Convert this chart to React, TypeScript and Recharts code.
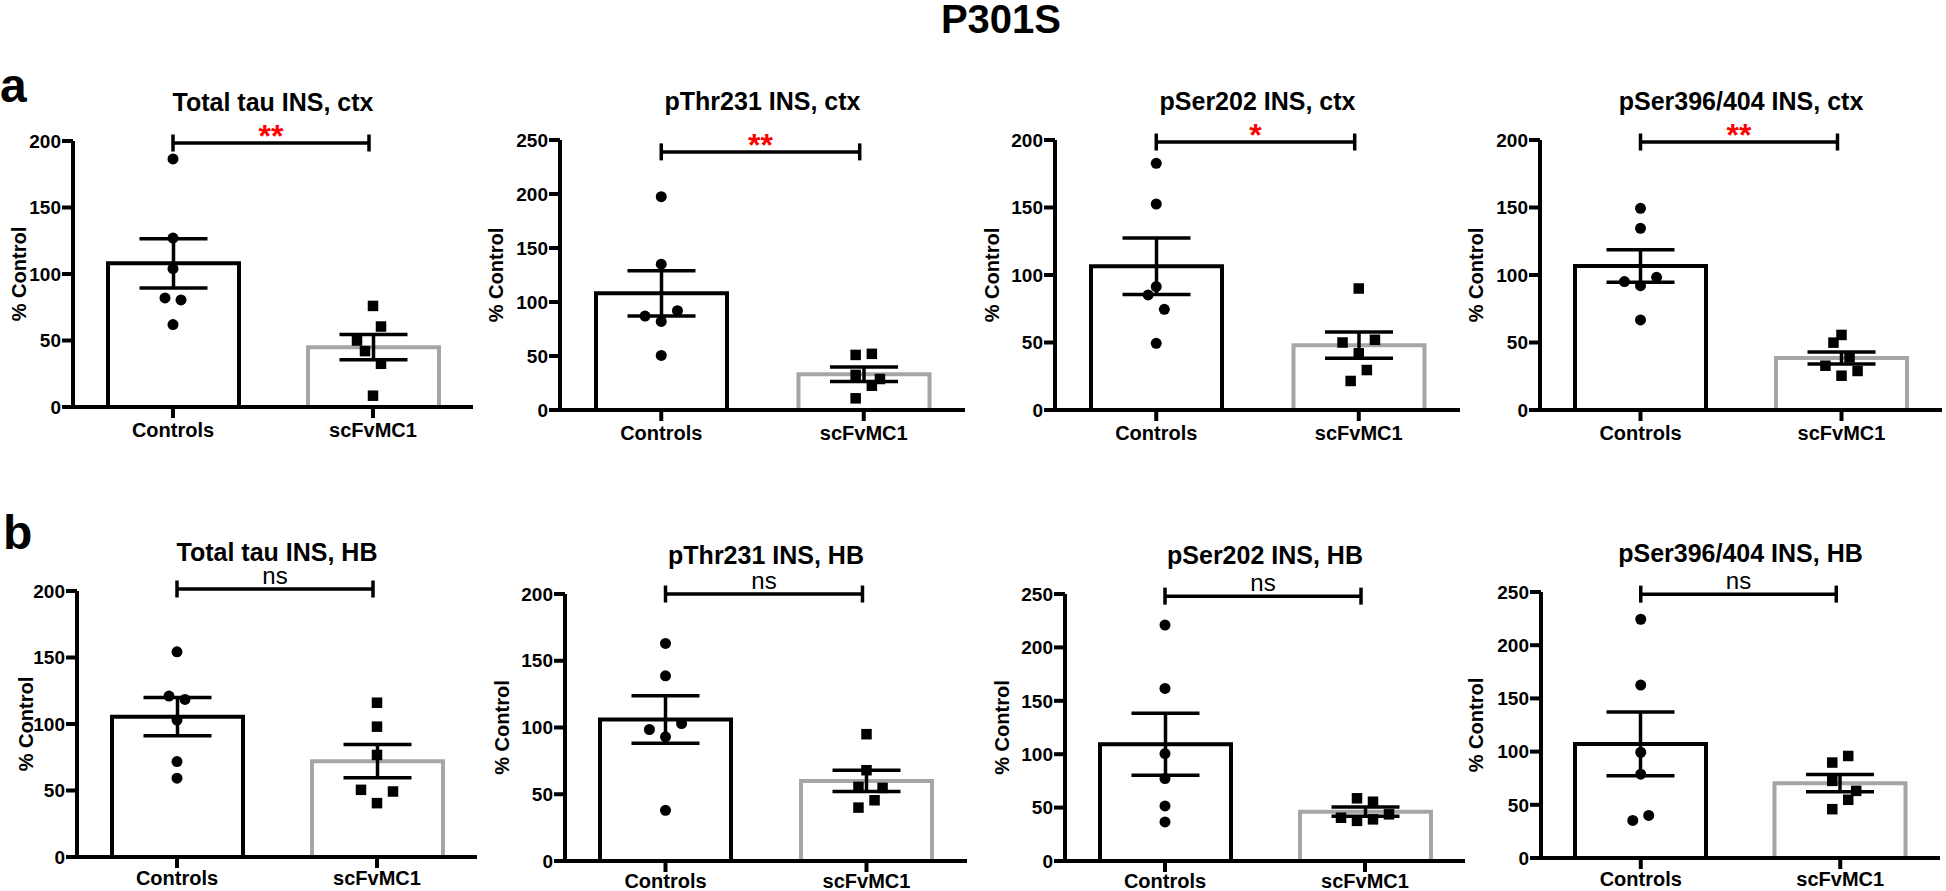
import React from 'react';
import { ComposedChart, Bar, Cell, ErrorBar, Scatter, XAxis, YAxis, ReferenceLine } from 'recharts';

// ---------- DATA ----------
const categories = ['Controls', 'scFvMC1'];

const panelTitles = [
  'Total tau INS, ctx',
  'pThr231 INS, ctx',
  'pSer202 INS, ctx',
  'pSer396/404 INS, ctx',
  'Total tau INS, HB',
  'pThr231 INS, HB',
  'pSer202 INS, HB',
  'pSer396/404 INS, HB',
];

const significance = ['**', '**', '*', '**', 'ns', 'ns', 'ns', 'ns'];

const yMaxes = [200, 250, 200, 200, 200, 200, 250, 250];

const bracketLevels = [198.5, 239, 198.5, 198.5, 201.5, 200, 248, 248];

// group means (Controls, scFvMC1)
const groupMeans = [
  [108, 45],
  [108, 33],
  [106.5, 48],
  [106.7, 38.5],
  [105.5, 72],
  [106, 60],
  [109.4, 46.2],
  [107.2, 70.3],
];

// SEM (Controls, scFvMC1)
const groupSems = [
  [18.5, 9.5],
  [21, 6.7],
  [21, 9.7],
  [12, 4.5],
  [14.4, 12.5],
  [17.75, 8],
  [29, 4.3],
  [30, 8.1],
];

// individual animals, Controls
const controlsPoints = [
  [186.5, 127, 104, 82, 80.5, 62],
  [197.5, 135, 92, 87, 82, 50.5],
  [182.7, 152.6, 91.4, 85.2, 74.6, 49.4],
  [149.4, 134.6, 98.3, 95.1, 92.1, 66.7],
  [154.25, 121, 118.5, 103, 71.75, 59.25],
  [163, 138.75, 103, 98.5, 93, 38],
  [220.9, 161.6, 100.6, 77.2, 51.6, 36.6],
  [224.4, 162.5, 99.4, 78.75, 40, 35.3],
];
// horizontal scatter offsets (category units), Controls
const controlsJitter = [
  [0, 0, 0, -0.04, 0.04, 0],
  [0, 0, 0.08, -0.08, 0, 0],
  [0, 0, 0, -0.04, 0.04, 0],
  [0, 0, 0.08, -0.08, 0, 0],
  [0, -0.04, 0.04, 0, 0, 0],
  [0, 0, 0.08, -0.08, 0, 0],
  [0, 0, 0, 0, 0, 0],
  [0, 0, 0, 0, 0.04, -0.04],
];

// individual animals, scFvMC1
const scfvPoints = [
  [76, 60.5, 50, 42, 32.5, 8.5],
  [51, 52, 32.5, 28.7, 22.5, 10.8],
  [90, 50, 52, 42, 29.6, 21.5],
  [55.6, 49.9, 39, 32.8, 28.9, 25.4],
  [116, 98, 76.75, 50.5, 49.25, 40.5],
  [95, 68, 55.5, 54.75, 45.5, 40],
  [58.7, 55.5, 43.7, 40.5, 39, 37.6],
  [95.9, 89.7, 72.5, 63.1, 54.7, 45.9],
];
const scfvJitter = [
  [0, 0.04, -0.08, -0.04, 0.04, 0],
  [-0.04, 0.04, -0.04, 0.08, 0.04, -0.04],
  [0, -0.08, 0.08, 0, 0.04, -0.04],
  [0, -0.04, 0.04, -0.08, 0.08, 0],
  [0, 0, 0, -0.08, 0.08, 0],
  [0, 0, -0.04, 0.08, 0.04, -0.04],
  [-0.04, 0.04, 0.12, -0.12, 0.04, -0.04],
  [0.04, -0.04, -0.04, 0.08, 0.04, -0.04],
];

// ---------- LAYOUT ----------
const layouts = [
  { axisX: 73, top: 141, bottom: 407, xEnd: 473, labelGap: 47, tickGap: 5 },
  { axisX: 560, top: 140, bottom: 410, xEnd: 965, labelGap: 57, tickGap: 5 },
  { axisX: 1055, top: 140, bottom: 410, xEnd: 1460, labelGap: 56, tickGap: 5 },
  { axisX: 1540, top: 140, bottom: 410, xEnd: 1942, labelGap: 57, tickGap: 5 },
  { axisX: 77, top: 591, bottom: 857, xEnd: 477, labelGap: 44, tickGap: 3 },
  { axisX: 565, top: 594, bottom: 861, xEnd: 967, labelGap: 56, tickGap: 2 },
  { axisX: 1065, top: 594, bottom: 861, xEnd: 1465, labelGap: 56, tickGap: 2 },
  { axisX: 1541, top: 592, bottom: 858, xEnd: 1940, labelGap: 58, tickGap: 3 },
];

const FONT = '"Liberation Sans", Arial, Helvetica, sans-serif';
const TM = 50;
const XH = 42;
const RM = 3;
const GRAY = '#a6a6a6';

const CircleDot = (p: any) => <circle cx={p.cx} cy={p.cy} r={5.5} fill="#000" />;
const SquareDot = (p: any) => (
  <rect x={p.cx - 5.25} y={p.cy - 5.25} width={10.5} height={10.5} fill="#000" />
);

function Panel({ i }: { i: number }) {
  const { axisX, top, bottom, xEnd, labelGap, tickGap } = layouts[i];
  const YW = labelGap + 22;
  const plotH = bottom - top;
  const plotW = xEnd - axisX;
  const width = YW + plotW + RM;
  const height = TM + plotH + XH;
  const left = axisX - YW;
  const chartTop = top - TM;
  const yMax = yMaxes[i];
  const pxPerUnit = plotH / yMax;
  const capHalf = 8.5 / pxPerUnit;
  const ticks = yMax === 250 ? [0, 50, 100, 150, 200, 250] : [0, 50, 100, 150, 200];
  const barData = categories.map((c, k) => ({ x: k, name: c, mean: groupMeans[i][k], sem: groupSems[i][k] }));
  const ctrlPts = controlsPoints[i].map((v, k) => ({ px: controlsJitter[i][k], y: v }));
  const scfvPts = scfvPoints[i].map((v, k) => ({ px: 1 + scfvJitter[i][k], y: v }));
  const sig = significance[i];
  const isNs = sig === 'ns';
  const b = bracketLevels[i];
  const lx = YW - labelGap;
  const ly = TM + plotH / 2;

  return (
    <>
      <div
        style={{
          position: 'absolute',
          left: (axisX + xEnd) / 2 - 250,
          width: 500,
          top: top - 30 - 18,
          textAlign: 'center',
          fontSize: 25,
          lineHeight: '18px',
          fontWeight: 'bold',
          color: '#000',
          whiteSpace: 'nowrap',
        }}
      >
        {panelTitles[i]}
      </div>
      <div style={{ position: 'absolute', left, top: chartTop, width, height }}>
        <ComposedChart
          width={width}
          height={height}
          data={barData}
          margin={{ top: TM, right: RM, bottom: 0, left: 0 }}
        >
          <XAxis
            type="number"
            dataKey="x"
            domain={[-0.5, 1.5]}
            ticks={[0, 1]}
            interval={0}
            allowDataOverflow
            height={XH}
            tickFormatter={(v: number) => categories[v] ?? ''}
            axisLine={{ stroke: '#000', strokeWidth: 4 }}
            tickLine={{ stroke: '#000', strokeWidth: 4 }}
            tickSize={11}
            tickMargin={tickGap}
            tick={{ fontSize: 20, fontWeight: 'bold', fill: '#000', fontFamily: FONT }}
          />
          <XAxis
            xAxisId="pts"
            type="number"
            dataKey="px"
            domain={[-0.5, 1.5]}
            allowDataOverflow
            hide
          />
          <YAxis
            type="number"
            domain={[0, yMax]}
            ticks={ticks}
            interval={0}
            allowDataOverflow
            width={YW}
            axisLine={{ stroke: '#000', strokeWidth: 4 }}
            tickLine={{ stroke: '#000', strokeWidth: 4 }}
            tickSize={11}
            tickMargin={1}
            tick={{ fontSize: 19, fontWeight: 'bold', fill: '#000', fontFamily: FONT }}
            label={() => (
              <text
                x={lx}
                y={ly}
                transform={`rotate(-90, ${lx}, ${ly})`}
                textAnchor="middle"
                fontSize={20}
                fontWeight="bold"
                fill="#000"
                fontFamily={FONT}
              >
                % Control
              </text>
            )}
          />
          <Bar dataKey="mean" barSize={131} fill="#fff" strokeWidth={4} isAnimationActive={false}>
            {barData.map((d, k) => (
              <Cell key={k} stroke={k === 0 ? '#000' : GRAY} fill="#fff" />
            ))}
            <ErrorBar dataKey="sem" width={34} stroke="#000" strokeWidth={3.5} direction="y" />
          </Bar>
          <Scatter xAxisId="pts" data={ctrlPts} dataKey="y" shape={CircleDot} isAnimationActive={false} />
          <Scatter xAxisId="pts" data={scfvPts} dataKey="y" shape={SquareDot} isAnimationActive={false} />
          <ReferenceLine
            segment={[{ x: 0, y: b }, { x: 0.98, y: b }]}
            stroke="#000"
            strokeWidth={3.5}
            ifOverflow="visible"
            label={{
              value: sig,
              position: 'top',
              offset: isNs ? 5 : -4,
              fill: isNs ? '#000' : '#ff0000',
              fontSize: isNs ? 24 : 32,
              fontWeight: isNs ? 'normal' : 'bold',
              fontFamily: FONT,
            }}
          />
          <ReferenceLine
            segment={[{ x: 0, y: b - capHalf }, { x: 0, y: b + capHalf }]}
            stroke="#000"
            strokeWidth={3.5}
            ifOverflow="visible"
          />
          <ReferenceLine
            segment={[{ x: 0.98, y: b - capHalf }, { x: 0.98, y: b + capHalf }]}
            stroke="#000"
            strokeWidth={3.5}
            ifOverflow="visible"
          />
        </ComposedChart>
      </div>
    </>
  );
}

export default function App() {
  return (
    <div
      style={{
        position: 'absolute',
        left: 0,
        top: 0,
        width: 1946,
        height: 891,
        overflow: 'hidden',
        background: '#fff',
        fontFamily: FONT,
        color: '#000',
      }}
    >
      <div
        style={{
          position: 'absolute',
          left: 801,
          width: 400,
          top: 2,
          textAlign: 'center',
          fontSize: 40,
          lineHeight: '34px',
          fontWeight: 'bold',
        }}
      >
        P301S
      </div>
      <div style={{ position: 'absolute', left: 0, top: 62, fontSize: 48, lineHeight: '48px', fontWeight: 'bold' }}>a</div>
      <div style={{ position: 'absolute', left: 3, top: 509, fontSize: 48, lineHeight: '48px', fontWeight: 'bold' }}>b</div>
      {layouts.map((_, i) => (
        <Panel key={i} i={i} />
      ))}
    </div>
  );
}
